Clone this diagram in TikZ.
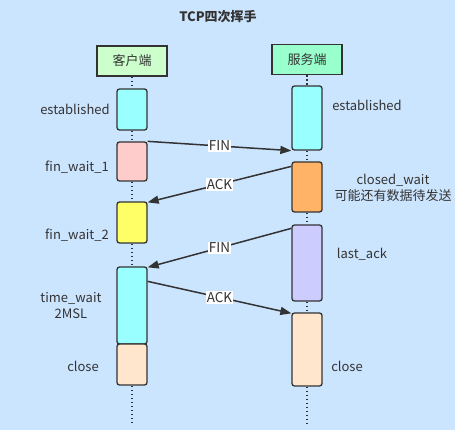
\documentclass[tikz,border=0pt]{standalone}
\usepackage{fontspec}
\setmainfont{Noto Sans CJK SC}
\usetikzlibrary{arrows.meta}
\definecolor{bg}{HTML}{CCE5FF}
\definecolor{ln}{HTML}{333333}
\definecolor{tx}{HTML}{333333}
\tikzset{
  blk/.style={draw=ln, line width=1.3pt, rounded corners=2.5pt, minimum width=30pt, inner sep=0pt},
  hdr/.style={draw=ln, line width=1.3pt, minimum width=70pt, minimum height=30pt, inner sep=0pt, text=tx, font=\fontsize{13}{15}\selectfont},
  lbl/.style={text=tx, font=\fontsize{13}{16}\selectfont, inner sep=0pt, align=center},
  life/.style={draw=ln, line width=1.5pt, dash pattern=on 1.5pt off 2.5pt},
  msg/.style={draw=ln, line width=1.5pt, -{Triangle[length=11pt,width=8pt]}},
  mlab/.style={fill=white, text=tx, font=\fontsize{13.5}{15}\selectfont, inner sep=1.2pt}
}
\begin{document}
\begin{tikzpicture}[x=1pt,y=-1pt]
\fill[bg] (0,0) rectangle (455,430);
\useasboundingbox (0,0) rectangle (455,430);
\node[font=\bfseries\fontsize{13}{15}\selectfont, text=tx] (title) at (218,17) {TCP四次挥手};
% headers
\node[hdr, fill={rgb,255:red,204;green,255;blue,204}] (ch) at (132,61) {客户端};
\node[hdr, fill={rgb,255:red,153;green,255;blue,204}] (sh) at (307,59.5) {服务端};
% client blocks
\node[blk, fill={rgb,255:red,153;green,255;blue,255}, minimum height=41pt] (ce) at (132,109.5) {};
\node[blk, fill={rgb,255:red,255;green,204;blue,204}, minimum height=39pt] (cf1) at (132,161.5) {};
\node[blk, fill={rgb,255:red,255;green,255;blue,102}, minimum height=41pt] (cf2) at (132,222.5) {};
\node[blk, fill={rgb,255:red,153;green,255;blue,255}, minimum height=77pt] (ctw) at (132,305.5) {};
\node[blk, fill={rgb,255:red,255;green,230;blue,204}, minimum height=41pt] (cc) at (132,364.5) {};
\coordinate (cend) at (132,424);
% server blocks
\node[blk, fill={rgb,255:red,153;green,255;blue,255}, minimum height=64pt] (se) at (307,118) {};
\node[blk, fill={rgb,255:red,255;green,179;blue,102}, minimum height=50pt] (scw) at (307,187) {};
\node[blk, fill={rgb,255:red,204;green,204;blue,255}, minimum height=76pt] (sla) at (307,263) {};
\node[blk, fill={rgb,255:red,255;green,230;blue,204}, minimum height=73pt] (sc) at (307,349.5) {};
\coordinate (send) at (307,424);
% lifelines
\draw[life] (ch.south) -- (ce.north);
\draw[life] (ce.south) -- (cf1.north);
\draw[life] (cf1.south) -- (cf2.north);
\draw[life] (cf2.south) -- (ctw.north);
\draw[life] (cc.south) -- (cend);
\draw[life] (sh.south) -- (se.north);
\draw[life] (se.south) -- (scw.north);
\draw[life] (scw.south) -- (sla.north);
\draw[life] (sla.south) -- (sc.north);
\draw[life] (sc.south) -- (send);
% messages
\draw[msg] (cf1.north east) -- node[mlab] {FIN} (se.south west);
\draw[msg] ([yshift=-5pt]scw.north west) -- node[mlab] {ACK} ([yshift=-1pt]cf2.north east);
\draw[msg] ([yshift=-4pt]sla.north west) -- node[mlab] {FIN} ([yshift=-1pt]ctw.north east);
\draw[msg] ([yshift=-15pt]ctw.north east) -- node[mlab] {ACK} ([yshift=-1pt]sc.north west);
% state labels
\node[lbl] (l1) at (75,109) {established};
\node[lbl] (l2) at (77,167) {fin\_wait\_1};
\node[lbl] (l3) at (77,235) {fin\_wait\_2};
\node[lbl] (l4) at (71,306) {time\_wait\\2MSL};
\node[lbl] (l5) at (83,366) {close};
\node[lbl] (r1) at (367,105) {established};
\node[lbl] (r2) at (393,188) {closed\_wait\\可能还有数据待发送};
\node[lbl] (r3) at (362,254) {last\_ack};
\node[lbl] (r4) at (347,366) {close};
\end{tikzpicture}
\end{document}
